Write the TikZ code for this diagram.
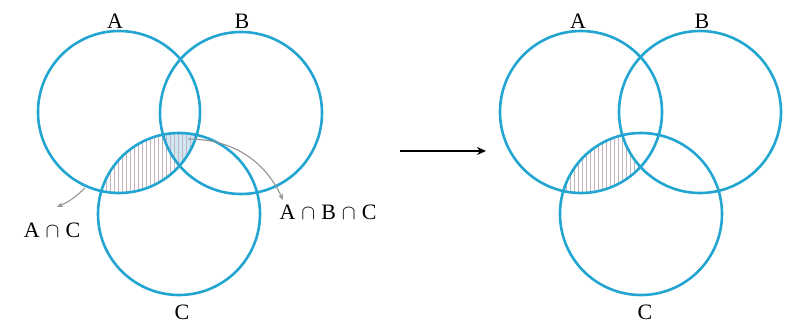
\documentclass[tikz,border=0pt]{standalone}
\usepackage{fontspec}
\setmainfont{Liberation Serif}
\usetikzlibrary{arrows.meta}
\definecolor{ring}{RGB}{35,165,210}
\definecolor{hatch}{RGB}{200,178,188}
\definecolor{triple}{RGB}{205,232,245}
\newcommand{\capsep}{\hspace{6pt}$\cap$\hspace{6pt}}
\tikzset{
  setring/.style={draw=ring, line width=2.6pt},
  setlabel/.style={font=\fontsize{22}{26}\selectfont, inner sep=0pt},
  pointer/.style={draw=gray!85, line width=1.1pt, -{Stealth[length=6pt,width=5pt]}},
  mainarrow/.style={draw=black, line width=1.8pt, -{Stealth[length=9pt,width=8pt]}},
  hatchline/.style={draw=hatch, line width=0.7pt}
}
\begin{document}
\begin{tikzpicture}[x=1pt,y=-1pt]
\useasboundingbox (0,0) rectangle (795,335);
\def\R{81}
% left centres
\coordinate (LA) at (119,112);
\coordinate (LB) at (241,113);
\coordinate (LC) at (179,214);
% right centres
\coordinate (RA) at (581,112);
\coordinate (RB) at (700,112);
\coordinate (RC) at (641,214);

% left hatching A∩C
\begin{scope}
  \clip (LA) circle (\R);
  \clip (LC) circle (\R);
  \begin{scope}
    \clip (LB) circle (\R);
    \fill[triple] (100,100) rectangle (260,260);
  \end{scope}
  \foreach \x in {90,94,...,260} \draw[hatchline] (\x,100) -- (\x,260);
\end{scope}

% right hatching A∩C minus B
\begin{scope}
  \clip (RA) circle (\R);
  \clip (RC) circle (\R);
  \foreach \x in {550,554,...,720} \draw[hatchline] (\x,100) -- (\x,260);
  \fill[white] (RB) circle (\R);
\end{scope}

% circles
\node[setring, circle, minimum size=2*\R pt, inner sep=0pt] (cLA) at (LA) {};
\node[setring, circle, minimum size=2*\R pt, inner sep=0pt] (cLB) at (LB) {};
\node[setring, circle, minimum size=2*\R pt, inner sep=0pt] (cLC) at (LC) {};
\node[setring, circle, minimum size=2*\R pt, inner sep=0pt] (cRA) at (RA) {};
\node[setring, circle, minimum size=2*\R pt, inner sep=0pt] (cRB) at (RB) {};
\node[setring, circle, minimum size=2*\R pt, inner sep=0pt] (cRC) at (RC) {};

% labels
\node[setlabel] (lA) at (115,21) {A};
\node[setlabel] (lB) at (242,21) {B};
\node[setlabel] (lC) at (182,312) {C};
\node[setlabel] (rA) at (578,21) {A};
\node[setlabel] (rB) at (702,21) {B};
\node[setlabel] (rC) at (645,312) {C};
\node[setlabel] (lAC) at (52,230) {A\capsep C};
\node[setlabel] (lABC) at (328,212) {A\capsep B\capsep C};

% pointers
\coordinate (pAC) at (85,188);
\coordinate (tAC) at (57,207);
\coordinate (pABC) at (188,139);
\coordinate (tABC) at (283,200);
\draw[pointer] (pAC) to[bend left=10] (tAC);
\draw[pointer] (pABC) to[out=0,in=115] (tABC);

% transition arrow
\coordinate (s) at (400,151);
\coordinate (e) at (486,151);
\draw[mainarrow] (s) -- (e);
\end{tikzpicture}
\end{document}
